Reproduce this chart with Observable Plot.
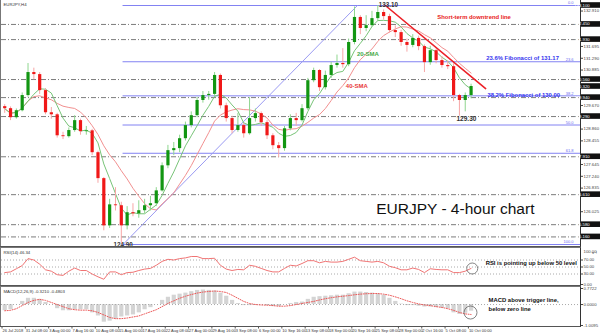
<!DOCTYPE html>
<html><head><meta charset="utf-8">
<script src="https://cdn.jsdelivr.net/npm/d3@7"></script>
<script src="https://cdn.jsdelivr.net/npm/@observablehq/plot@0.6"></script>
<style>
body{margin:0;background:#fff;}
#chart{width:600px;height:335px;position:relative;overflow:hidden;}
#chart svg{display:block;}
</style></head><body><div id="chart"></div>
<script>
// ---- data (EURJPY, 16-hour groups of the 4-hour chart) ----
const opens = [129.63,129.56,129.25,129.49,130.01,130.80,130.73,130.18,129.42,129.35,
128.63,128.60,128.81,129.15,128.77,128.80,128.05,127.16,125.54,126.26,
126.23,125.54,125.99,125.95,126.06,126.23,126.30,126.74,127.60,128.12,
128.19,128.53,128.98,129.32,129.84,130.01,130.05,130.70,129.66,129.22,
128.81,128.98,128.70,129.22,129.39,129.08,128.63,128.29,128.19,128.87,
129.22,129.15,129.56,130.52,130.87,130.28,130.70,131.04,131.11,131.07,
131.83,132.69,132.31,132.41,132.65,132.86,132.72,132.24,132.17,131.83,
131.73,131.97,131.69,131.14,131.55,131.21,131.04,131.00,130.01,129.84,
130.01];
const closes = [129.56,129.25,129.49,130.01,130.80,130.73,130.18,129.42,129.35,128.63,
128.60,128.81,129.15,128.77,128.80,128.05,127.16,125.54,126.26,126.23,
125.54,125.99,125.95,126.06,126.23,126.30,126.74,127.60,128.12,128.19,
128.53,128.98,129.32,129.84,130.01,130.05,130.70,129.66,129.22,128.81,
128.98,128.70,129.22,129.39,129.08,128.63,128.29,128.19,128.87,129.22,
129.15,129.56,130.52,130.87,130.28,130.70,131.04,131.11,131.07,131.83,
132.69,132.31,132.41,132.65,132.86,132.72,132.24,132.17,131.83,131.73,
131.97,131.69,131.14,131.55,131.21,131.04,131.00,130.01,129.84,130.01,
130.32];
const highs = [129.70,129.62,129.55,130.10,131.11,130.95,130.80,130.25,129.60,129.40,
128.75,128.90,129.32,129.20,128.95,128.85,128.10,127.20,126.45,126.85,
126.35,126.20,126.30,126.40,126.45,126.55,126.85,127.70,128.30,128.40,
128.65,129.10,129.45,129.95,130.15,130.15,130.80,130.75,129.75,129.30,
129.40,129.05,129.94,129.55,129.45,129.15,128.70,128.40,128.95,129.35,
129.40,129.70,130.60,130.95,130.90,130.85,131.15,131.40,131.62,131.95,
133.05,132.75,132.75,132.90,133.10,132.95,132.80,132.40,132.25,131.95,
132.10,132.05,131.75,131.70,131.60,131.35,131.20,131.10,130.05,130.10,
130.40];
const lows = [129.40,129.15,129.20,129.45,129.95,130.55,130.05,129.35,129.20,128.55,
128.50,128.55,128.75,128.65,128.65,127.95,127.00,125.37,125.45,126.05,
124.90,125.40,125.85,125.80,125.95,126.05,126.20,126.70,127.50,127.95,
128.05,128.45,128.90,129.25,129.75,129.85,129.95,129.55,129.10,128.70,
128.75,128.55,128.65,129.10,128.95,128.50,128.15,127.88,128.10,128.80,
128.95,129.10,129.50,130.45,130.15,130.20,130.60,130.95,130.95,131.00,
131.75,132.10,132.20,132.35,132.55,132.60,132.15,132.00,131.70,131.50,
131.65,131.55,130.80,131.05,131.10,130.95,130.90,129.80,129.30,129.45,
129.90];
const rsiValues = [34,36,45,54,74,70,58,42,38,28,
26,38,47,40,40,30,22,15,36,36,
28,34,35,40,44,46,55,66,72,70,
74,76,80,80,74,74,75,55,44,40,
43,42,55,52,46,40,36,36,46,55,
53,60,68,68,62,66,64,64,66,72,
78,68,66,64,66,62,52,48,42,42,
47,43,34,45,43,42,42,34,34,38,
46];
const macdHist = [-0.3,-0.25,0.0,0.15,0.3,0.3,0.25,0.1,0.0,-0.2,
-0.3,-0.3,-0.25,-0.25,-0.25,-0.4,-0.55,-0.85,-0.8,-0.7,
-0.6,-0.55,-0.5,-0.4,-0.25,-0.15,0.0,0.2,0.35,0.45,
0.5,0.55,0.62,0.68,0.7,0.68,0.65,0.55,0.4,0.2,
0.05,-0.05,-0.05,0.0,0.0,-0.05,-0.1,-0.1,0.0,0.05,
0.1,0.12,0.25,0.35,0.38,0.4,0.42,0.45,0.45,0.52,
0.6,0.6,0.58,0.55,0.52,0.45,0.3,0.15,0.02,-0.05,
-0.05,-0.08,-0.12,-0.12,-0.15,-0.18,-0.2,-0.4,-0.48,-0.42,
-0.32];
const macdSignal = [-0.3,-0.28,-0.2,-0.05,0.1,0.2,0.25,0.2,0.1,0.0,
-0.1,-0.2,-0.25,-0.27,-0.27,-0.3,-0.38,-0.5,-0.62,-0.68,
-0.68,-0.65,-0.6,-0.55,-0.45,-0.35,-0.25,-0.1,0.05,0.18,
0.3,0.4,0.48,0.55,0.6,0.63,0.65,0.63,0.58,0.45,
0.3,0.15,0.05,0.0,-0.02,-0.03,-0.05,-0.08,-0.08,-0.05,
0.0,0.05,0.1,0.15,0.22,0.28,0.33,0.37,0.4,0.43,
0.47,0.5,0.52,0.53,0.53,0.5,0.45,0.37,0.28,0.18,
0.1,0.03,-0.02,-0.05,-0.1,-0.14,-0.2,-0.28,-0.38,-0.45,
-0.48];
const dateLabels = ["26 Jul 2018","31 Jul 08:00","3 Aug 00:00","7 Aug 16:00","10 Aug 08:00","15 Aug 00:00",
"17 Aug 16:00","22 Aug 08:00","27 Aug 00:00","29 Aug 16:00","3 Sep 08:00","6 Sep 00:00","10 Sep 16:00",
"13 Sep 08:00","18 Sep 00:00","20 Sep 16:00","25 Sep 08:00","28 Sep 00:00","2 Oct 16:00","5 Oct 08:00","10 Oct 00:00"];
const priceTicks = [126.025,126.835,127.240,127.645,128.455,128.860,129.670,130.885,131.290,131.695,132.910];
const levelLines = [132.45,131.93,130.56,129.94,129.29,127.91,126.61,125.58,125.16];
const levelBoxes = [133.10,132.45,131.93,130.56,130.32,129.94,129.29,127.91,126.61,125.58,125.16];
const fibLevels = [133.10,131.17,130.00,129.00,128.03,124.90];
const fibNames = ["0.0","23.6","38.2","50.0","61.8","100.0"];
const swingLow = 124.90, swingLowIdx = 20.3;
const swingHigh = 133.10, swingHighIdx = 60.5;
const downTrend = [[65.3,133.10],[82.5,130.25]];
const rsiTicks = [0,30,50,70];
const rsiTop = 100;
const rsiLevels = [30,50,70];
const macdTicks = [-1.0095,0,0.7722];

// ---- build ----
const font = "'Liberation Sans', Arial, Helvetica, sans-serif";
const xDomain = [-0.55, 98.77];
const candles = closes.map((c,i)=>({i, open: opens[i], close: c, high: highs[i], low: lows[i]}));
const up = candles.filter(d=>d.close>=d.open), dn = candles.filter(d=>d.close<d.open);
const rsi = rsiValues.map((v,i)=>({i,v}));
const macd = macdHist.map((h,i)=>({i,h,s:macdSignal[i]}));
const dates = dateLabels.map((t,j)=>({t, x: 4*j - 0.375}));
const style = {fontFamily: font, background: "transparent", overflow: "visible"};
const tickFont = 4.3;

const main = Plot.plot({
  width: 600, height: 247, marginLeft: 1, marginRight: 20, marginTop: 5, marginBottom: 3,
  x: {domain: xDomain, axis: null},
  y: {domain: [124.90, 133.10], axis: null},
  style,
  marks: [
    Plot.ruleY(levelLines, {stroke: "#7c7c7c", strokeDasharray: "5,2,1,2"}),
    Plot.ruleY(fibLevels, {x1: swingLowIdx, x2: xDomain[1], stroke: "#8282f2"}),
    Plot.text(fibLevels, {x: xDomain[1], y: d=>d, text: fibNames, textAnchor: "end", dx: -7, dy: -2.5, fontSize: 4, fill: "#6a6af0"}),
    Plot.line([[swingLowIdx, swingLow],[swingHighIdx, swingHigh]], {x: d=>d[0], y: d=>d[1], stroke: "#9a9af2", strokeWidth: 1}),
    Plot.lineY(candles, Plot.windowY({k: 10, anchor: "end", strict: false}, {x: "i", y: "close", stroke: "#f29090", strokeWidth: 1})),
    Plot.lineY(candles, Plot.windowY({k: 5, anchor: "end", strict: false}, {x: "i", y: "close", stroke: "#78c478", strokeWidth: 1})),
    Plot.ruleX(up, {x: "i", y1: "low", y2: "high", stroke: "#8fd68f", strokeWidth: 1}),
    Plot.ruleX(dn, {x: "i", y1: "low", y2: "high", stroke: "#f7a6a6", strokeWidth: 1}),
    Plot.ruleX(up, {x: "i", y1: "open", y2: "close", stroke: "#129612", strokeWidth: 3.2}),
    Plot.ruleX(dn, {x: "i", y1: "open", y2: "close", stroke: "#f01818", strokeWidth: 3.2}),
    Plot.line(downTrend, {x: d=>d[0], y: d=>d[1], stroke: "#ec2027", strokeWidth: 1.6}),
    Plot.axisY({anchor: "right", ticks: priceTicks, tickFormat: d=>d.toFixed(3), fontSize: tickFont, tickSize: 2, tickPadding: 1, fill: "#444", stroke: "#444"}),
    Plot.text(["EURJPY,H4"], {frameAnchor: "top-left", dx: 2, dy: -3, fontSize: tickFont, fill: "#333"}),
    Plot.text(["133.10"], {x: 65.8, y: 133.10, dy: -1, fontSize: 6.3, fontWeight: "bold", fill: "#333"}),
    Plot.text(["124.90"], {x: 20.3, y: 124.90, dy: 0, fontSize: 6.3, fontWeight: "bold", fill: "#333"}),
    Plot.text(["129.30"], {x: 79.2, y: 129.22, fontSize: 6.5, fontWeight: "bold", fill: "#333"}),
    Plot.text(["20-SMA"], {x: 62.3, y: 131.45, fontSize: 6, fontWeight: "bold", fill: "#48aa48"}),
    Plot.text(["40-SMA"], {x: 60.4, y: 130.32, fontSize: 6, fontWeight: "bold", fill: "#e83a3a"}),
    Plot.text(["Short-term downtrend line"], {x: 74.2, y: 132.69, textAnchor: "start", fontSize: 5.9, fontWeight: "bold", fill: "#e82020"}),
    Plot.text(["23.6% Fibonacci of 131.17"], {x: 82.6, y: 131.29, textAnchor: "start", fontSize: 5.9, fontWeight: "bold", fill: "#3434ee"}),
    Plot.text(["38.2% Fibonacci of 130.00"], {x: 82.8, y: 130.02, textAnchor: "start", fontSize: 5.9, fontWeight: "bold", fill: "#3434ee"}),
    Plot.text(["EURJPY - 4-hour chart"], {x: 77.3, y: 126.12, fontSize: 15.5, fill: "#111"})
  ]
});

const rsiPlot = Plot.plot({
  width: 600, height: 39, marginLeft: 1, marginRight: 20, marginTop: 2, marginBottom: 2,
  x: {domain: xDomain, axis: null},
  y: {domain: [0, 100], axis: null},
  style,
  marks: [
    Plot.ruleY(rsiLevels, {stroke: "#aaa", strokeDasharray: "1,2"}),
    Plot.line(rsi, {x: "i", y: "v", stroke: "#f07474", strokeWidth: 1}),
    Plot.axisY({anchor: "right", ticks: rsiTicks, tickFormat: d=>d.toFixed(2), fontSize: tickFont, tickSize: 2, tickPadding: 1, fill: "#444", stroke: "#444"}),
    Plot.text([rsiTop], {x: xDomain[1], y: d=>d, text: d=>d.toFixed(2), textAnchor: "start", dx: 3, dy: 1.8, fontSize: tickFont, fill: "#444"}),
    Plot.text(["RSI(14) 46.34"], {frameAnchor: "top-left", dx: 2, dy: 1, fontSize: tickFont, fill: "#333"}),
    Plot.text(["RSI is pointing up below 50 level"], {x: 82.5, y: 60, textAnchor: "start", fontSize: 5.9, fontWeight: "bold", fill: "#111"}),
    Plot.dot([[80.2, 45.7]], {x: d=>d[0], y: d=>d[1], r: 5.5, stroke: "#666", strokeWidth: 0.8})
  ]
});

const macdPlot = Plot.plot({
  width: 600, height: 49, marginLeft: 1, marginRight: 20, marginTop: 2, marginBottom: 10,
  x: {domain: xDomain, axis: null},
  y: {domain: [-1.0095, 0.7722], axis: null},
  style,
  marks: [
    Plot.ruleX(macd, {x: "i", y1: 0, y2: "h", stroke: "#d4d4d4", strokeWidth: 4.2}),
    Plot.ruleY([0], {stroke: "#aaa", strokeDasharray: "1,2"}),
    Plot.line(macd, {x: "i", y: "s", stroke: "#ec5a5a", strokeWidth: 1, strokeDasharray: "1,1.5"}),
    Plot.axisY({anchor: "right", ticks: macdTicks, tickFormat: d=>d.toFixed(4), fontSize: tickFont, tickSize: 2, tickPadding: 1, fill: "#444", stroke: "#444"}),
    Plot.text(["MACD(12,26,9) -0.3210 -0.4803"], {frameAnchor: "top-left", dx: 2, dy: 1, fontSize: tickFont, fill: "#333"}),
    Plot.text(["MACD above trigger line,", "below zero line"], {x: 83, y: [0.19, -0.2], textAnchor: "start", fontSize: 5.9, fontWeight: "bold", fill: "#111"}),
    Plot.dot([[79.9, -0.385]], {x: d=>d[0], y: d=>d[1], r: 6.5, stroke: "#666", strokeWidth: 0.8}),
    Plot.text(dates, {x: "x", text: "t", frameAnchor: "bottom", dy: 5.5, lineAnchor: "middle", textAnchor: "start", fontSize: 4, fill: "#333"})
  ]
});

const chart = document.getElementById("chart");
[main, rsiPlot, macdPlot].forEach(p => chart.appendChild(p));

// panel borders and price boxes
function border(svg, h, top, bottom) {
  const s = d3.select(svg);
  s.append("line").attr("x1",0.5).attr("x2",0.5).attr("y1",0).attr("y2",h).attr("stroke","#777");
  s.append("line").attr("x1",580.5).attr("x2",580.5).attr("y1",0).attr("y2",h).attr("stroke","#333");
  if (top != null) s.append("line").attr("x1",0).attr("x2",580.5).attr("y1",top).attr("y2",top).attr("stroke","#777");
  if (bottom != null) s.append("line").attr("x1",0).attr("x2",580.5).attr("y1",bottom).attr("y2",bottom).attr("stroke","#555");
}
border(main, 247, null, 246.5);
border(rsiPlot, 39, 0.5, 38.5);
border(macdPlot, 41, 0.5, 40.5);

const ys = main.scale("y");
const ms = d3.select(main);
levelBoxes.forEach(v => {
  const y = ys.apply(v);
  ms.append("rect").attr("x", 581).attr("y", y - 2.8).attr("width", 19).attr("height", 5.6).attr("fill", "#111");
  ms.append("text").attr("x", 582).attr("y", y).attr("dy", "0.35em").attr("font-size", tickFont)
    .attr("font-family", font).attr("fill", "#fff").text(v.toFixed(3));
});
const xs = macdPlot.scale("x");
const md = d3.select(macdPlot);
dates.forEach(d => {
  const x = xs.apply(d.x);
  md.append("line").attr("x1", x).attr("x2", x).attr("y1", 40.5).attr("y2", 42.5).attr("stroke", "#555");
});
</script></body></html>
